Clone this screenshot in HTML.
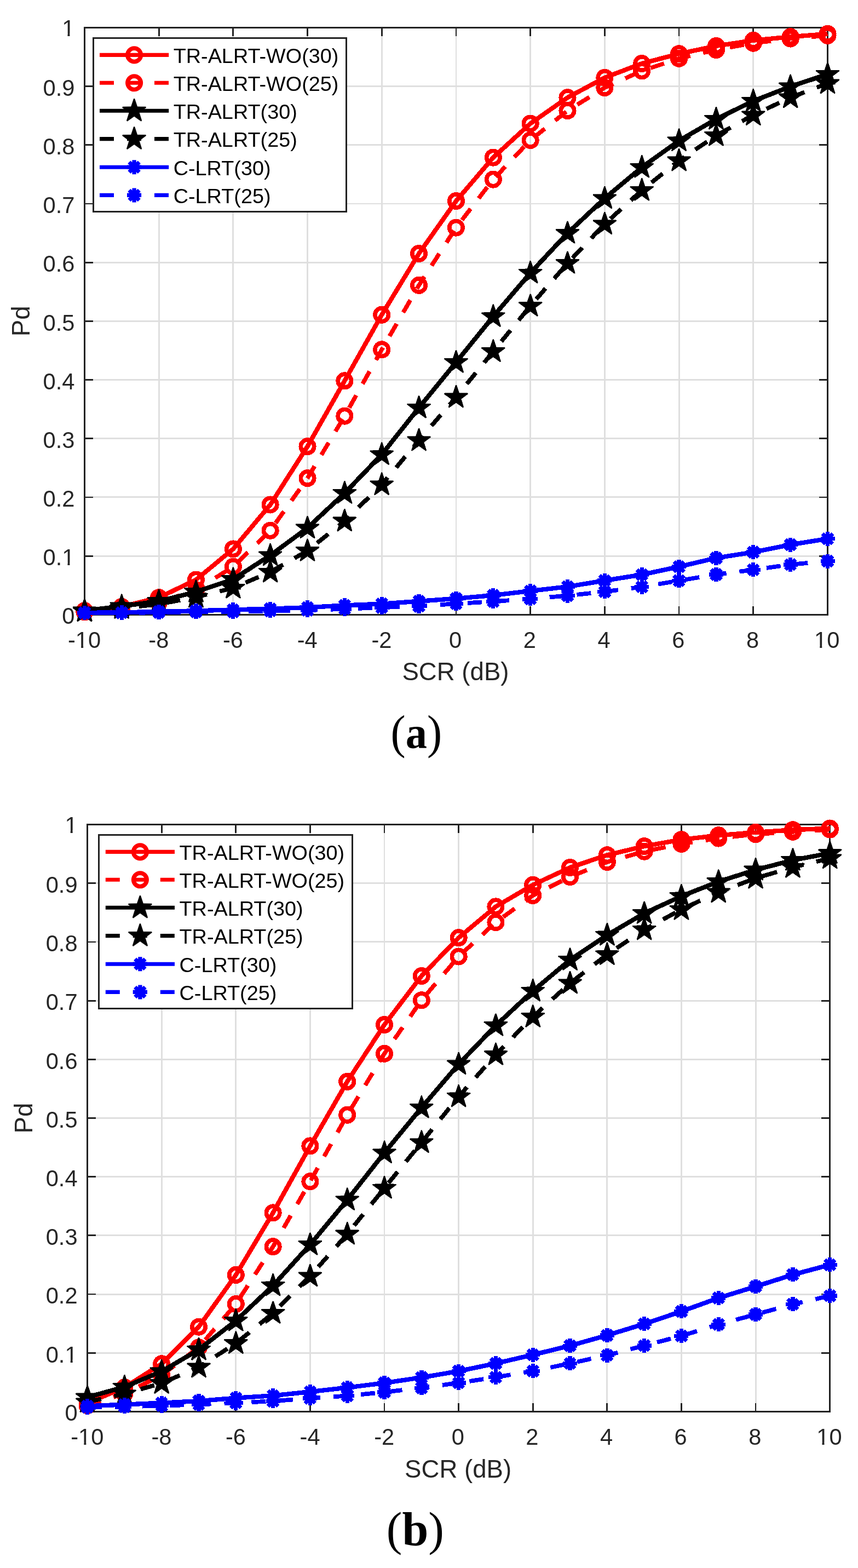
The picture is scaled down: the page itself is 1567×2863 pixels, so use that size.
<!DOCTYPE html>
<html lang="en"><head><meta charset="utf-8"><title>Pd versus SCR</title><style>
html,body{margin:0;padding:0;background:#fff;}
body{width:1567px;height:2863px;overflow:hidden;}
svg{display:block;}
text{font-family:"Liberation Sans",sans-serif;}
.tk text{font-size:41.67px;fill:#262626;}
.lb{font-size:45.6px;fill:#262626;}
.lg{font-size:37.8px;fill:#000;}
.cap{font-family:"Liberation Serif",serif;font-size:86px;fill:#000;}
.cap .b{font-weight:bold;font-size:82.5px;}
</style></head><body>
<svg width="1567" height="2863" viewBox="0 0 1567 2863">
<rect width="1567" height="2863" fill="#fff"/>
<g>
<g shape-rendering="crispEdges">
<path d="M290.11,50.4V1122.3M425.82,50.4V1122.3M561.53,50.4V1122.3M697.24,50.4V1122.3M832.95,50.4V1122.3M968.66,50.4V1122.3M1104.37,50.4V1122.3M1240.08,50.4V1122.3M1375.79,50.4V1122.3M154.4,1015.11H1511.5M154.4,907.92H1511.5M154.4,800.73H1511.5M154.4,693.54H1511.5M154.4,586.35H1511.5M154.4,479.16H1511.5M154.4,371.97H1511.5M154.4,264.78H1511.5M154.4,157.59H1511.5" stroke="#dfdfdf" stroke-width="2.9" fill="none"/>
<path d="M290.11,1122.3v-15.3M290.11,50.4v15.3M425.82,1122.3v-15.3M425.82,50.4v15.3M561.53,1122.3v-15.3M561.53,50.4v15.3M697.24,1122.3v-15.3M697.24,50.4v15.3M832.95,1122.3v-15.3M832.95,50.4v15.3M968.66,1122.3v-15.3M968.66,50.4v15.3M1104.37,1122.3v-15.3M1104.37,50.4v15.3M1240.08,1122.3v-15.3M1240.08,50.4v15.3M1375.79,1122.3v-15.3M1375.79,50.4v15.3M154.4,1015.11h15.3M1511.5,1015.11h-15.3M154.4,907.92h15.3M1511.5,907.92h-15.3M154.4,800.73h15.3M1511.5,800.73h-15.3M154.4,693.54h15.3M1511.5,693.54h-15.3M154.4,586.35h15.3M1511.5,586.35h-15.3M154.4,479.16h15.3M1511.5,479.16h-15.3M154.4,371.97h15.3M1511.5,371.97h-15.3M154.4,264.78h15.3M1511.5,264.78h-15.3M154.4,157.59h15.3M1511.5,157.59h-15.3" stroke="#222222" stroke-width="2.8" fill="none"/>
<rect x="154.4" y="50.4" width="1357.1" height="1071.9" fill="none" stroke="#222222" stroke-width="2.8"/>
</g>
<g class="tk" text-anchor="middle">
<text x="154.1" y="1183.3">-10</text>
<text x="289.81" y="1183.3">-8</text>
<text x="425.52" y="1183.3">-6</text>
<text x="561.23" y="1183.3">-4</text>
<text x="696.94" y="1183.3">-2</text>
<text x="831.65" y="1183.3">0</text>
<text x="967.36" y="1183.3">2</text>
<text x="1103.07" y="1183.3">4</text>
<text x="1238.78" y="1183.3">6</text>
<text x="1374.49" y="1183.3">8</text>
<text x="1510.2" y="1183.3">10</text>
</g>
<g class="tk" text-anchor="end">
<text x="136.4" y="1139">0</text>
<text x="136.4" y="1032.41">0.1</text>
<text x="136.4" y="925.22">0.2</text>
<text x="136.4" y="818.03">0.3</text>
<text x="136.4" y="710.84">0.4</text>
<text x="136.4" y="603.65">0.5</text>
<text x="136.4" y="496.46">0.6</text>
<text x="136.4" y="389.27">0.7</text>
<text x="136.4" y="282.08">0.8</text>
<text x="136.4" y="174.89">0.9</text>
<text x="136.4" y="66">1</text>
</g>
<path d="M114.9,1027.62h8.58v5.83h-8.58zM127.48,1027.62h8.54v5.83h-8.54zM114.9,61.21h8.58v5.83h-8.58zM127.48,61.21h8.54v5.83h-8.54zM139.54,1178.51h8.58v5.83h-8.58zM152.12,1178.51h8.54v5.83h-8.54zM1488.7,1178.51h8.58v5.83h-8.58zM1501.28,1178.51h8.54v5.83h-8.54z" fill="#fff"/>
<text class="lb" text-anchor="middle" x="831.95" y="1242.4">SCR (dB)</text>
<text class="lb" text-anchor="middle" transform="translate(53.9,586.35) rotate(-90)">Pd</text>
<g shape-rendering="crispEdges">
<path d="M154.4,1115.23L222.25,1107.83L290.11,1091.21L357.96,1058.52L425.82,1002.46L493.67,921.53L561.53,815.2L629.38,695.36L697.24,574.77L765.09,462.97L832.95,367.04L900.8,287.61L968.66,225.55L1036.51,178.17L1104.37,141.83L1172.22,116L1240.08,98.21L1307.93,83.95L1375.79,73.77L1443.64,67.23L1511.5,61.87" fill="none" stroke="#ff0000" stroke-width="8.3" stroke-linejoin="round"/>
<circle cx="154.4" cy="1115.23" r="12.2" fill="none" stroke="#ff0000" stroke-width="7.7"/>
<circle cx="222.25" cy="1107.83" r="12.2" fill="none" stroke="#ff0000" stroke-width="7.7"/>
<circle cx="290.11" cy="1091.21" r="12.2" fill="none" stroke="#ff0000" stroke-width="7.7"/>
<circle cx="357.96" cy="1058.52" r="12.2" fill="none" stroke="#ff0000" stroke-width="7.7"/>
<circle cx="425.82" cy="1002.46" r="12.2" fill="none" stroke="#ff0000" stroke-width="7.7"/>
<circle cx="493.67" cy="921.53" r="12.2" fill="none" stroke="#ff0000" stroke-width="7.7"/>
<circle cx="561.53" cy="815.2" r="12.2" fill="none" stroke="#ff0000" stroke-width="7.7"/>
<circle cx="629.38" cy="695.36" r="12.2" fill="none" stroke="#ff0000" stroke-width="7.7"/>
<circle cx="697.24" cy="574.77" r="12.2" fill="none" stroke="#ff0000" stroke-width="7.7"/>
<circle cx="765.09" cy="462.97" r="12.2" fill="none" stroke="#ff0000" stroke-width="7.7"/>
<circle cx="832.95" cy="367.04" r="12.2" fill="none" stroke="#ff0000" stroke-width="7.7"/>
<circle cx="900.8" cy="287.61" r="12.2" fill="none" stroke="#ff0000" stroke-width="7.7"/>
<circle cx="968.66" cy="225.55" r="12.2" fill="none" stroke="#ff0000" stroke-width="7.7"/>
<circle cx="1036.51" cy="178.17" r="12.2" fill="none" stroke="#ff0000" stroke-width="7.7"/>
<circle cx="1104.37" cy="141.83" r="12.2" fill="none" stroke="#ff0000" stroke-width="7.7"/>
<circle cx="1172.22" cy="116" r="12.2" fill="none" stroke="#ff0000" stroke-width="7.7"/>
<circle cx="1240.08" cy="98.21" r="12.2" fill="none" stroke="#ff0000" stroke-width="7.7"/>
<circle cx="1307.93" cy="83.95" r="12.2" fill="none" stroke="#ff0000" stroke-width="7.7"/>
<circle cx="1375.79" cy="73.77" r="12.2" fill="none" stroke="#ff0000" stroke-width="7.7"/>
<circle cx="1443.64" cy="67.23" r="12.2" fill="none" stroke="#ff0000" stroke-width="7.7"/>
<circle cx="1511.5" cy="61.87" r="12.2" fill="none" stroke="#ff0000" stroke-width="7.7"/>
<path d="M154.4,1117.37L222.25,1111.58L290.11,1099.79L357.96,1077.28L425.82,1034.73L493.67,968.7L561.53,873.08L629.38,759.57L697.24,638.34L765.09,520.86L832.95,415.6L900.8,327.59L968.66,255.99L1036.51,202.07L1104.37,160.06L1172.22,129.4L1240.08,106.78L1307.93,90.92L1375.79,78.7L1443.64,70.55L1511.5,64.76" fill="none" stroke="#ff0000" stroke-width="7.8" stroke-linejoin="round" stroke-dasharray="26.0 24.0"/>
<circle cx="154.4" cy="1117.37" r="12.2" fill="none" stroke="#ff0000" stroke-width="7.7"/>
<circle cx="222.25" cy="1111.58" r="12.2" fill="none" stroke="#ff0000" stroke-width="7.7"/>
<circle cx="290.11" cy="1099.79" r="12.2" fill="none" stroke="#ff0000" stroke-width="7.7"/>
<circle cx="357.96" cy="1077.28" r="12.2" fill="none" stroke="#ff0000" stroke-width="7.7"/>
<circle cx="425.82" cy="1034.73" r="12.2" fill="none" stroke="#ff0000" stroke-width="7.7"/>
<circle cx="493.67" cy="968.7" r="12.2" fill="none" stroke="#ff0000" stroke-width="7.7"/>
<circle cx="561.53" cy="873.08" r="12.2" fill="none" stroke="#ff0000" stroke-width="7.7"/>
<circle cx="629.38" cy="759.57" r="12.2" fill="none" stroke="#ff0000" stroke-width="7.7"/>
<circle cx="697.24" cy="638.34" r="12.2" fill="none" stroke="#ff0000" stroke-width="7.7"/>
<circle cx="765.09" cy="520.86" r="12.2" fill="none" stroke="#ff0000" stroke-width="7.7"/>
<circle cx="832.95" cy="415.6" r="12.2" fill="none" stroke="#ff0000" stroke-width="7.7"/>
<circle cx="900.8" cy="327.59" r="12.2" fill="none" stroke="#ff0000" stroke-width="7.7"/>
<circle cx="968.66" cy="255.99" r="12.2" fill="none" stroke="#ff0000" stroke-width="7.7"/>
<circle cx="1036.51" cy="202.07" r="12.2" fill="none" stroke="#ff0000" stroke-width="7.7"/>
<circle cx="1104.37" cy="160.06" r="12.2" fill="none" stroke="#ff0000" stroke-width="7.7"/>
<circle cx="1172.22" cy="129.4" r="12.2" fill="none" stroke="#ff0000" stroke-width="7.7"/>
<circle cx="1240.08" cy="106.78" r="12.2" fill="none" stroke="#ff0000" stroke-width="7.7"/>
<circle cx="1307.93" cy="90.92" r="12.2" fill="none" stroke="#ff0000" stroke-width="7.7"/>
<circle cx="1375.79" cy="78.7" r="12.2" fill="none" stroke="#ff0000" stroke-width="7.7"/>
<circle cx="1443.64" cy="70.55" r="12.2" fill="none" stroke="#ff0000" stroke-width="7.7"/>
<circle cx="1511.5" cy="64.76" r="12.2" fill="none" stroke="#ff0000" stroke-width="7.7"/>
<path d="M154.4,1114.97L222.25,1106.93L290.11,1097.71L357.96,1080.67L425.82,1057.73L493.67,1014L561.53,964.04L629.38,900.48L697.24,829.84L765.09,744.52L832.95,661.55L900.8,577.84L968.66,498.41L1036.51,425.74L1104.37,362.17L1172.22,305.47L1240.08,256.91L1307.93,217.47L1375.79,184.45L1443.64,157.98L1511.5,135.57" fill="none" stroke="#000000" stroke-width="8.3" stroke-linejoin="round"/>
<path d="M153.6,1092.97L155.2,1092.97L160.1,1107.52L175.46,1107.69L175.95,1109.21L163.63,1118.37L168.21,1133.02L166.92,1133.96L154.4,1125.07L141.88,1133.96L140.59,1133.02L145.17,1118.37L132.85,1109.21L133.34,1107.69L148.7,1107.52Z" fill="#000000" stroke="#000000" stroke-width="0.6" stroke-linejoin="miter" stroke-miterlimit="10"/>
<path d="M221.45,1084.93L223.06,1084.93L227.96,1099.48L243.31,1099.65L243.81,1101.17L231.48,1110.33L236.07,1124.98L234.77,1125.92L222.25,1117.03L209.74,1125.92L208.44,1124.98L213.03,1110.33L200.7,1101.17L201.2,1099.65L216.55,1099.48Z" fill="#000000" stroke="#000000" stroke-width="0.6" stroke-linejoin="miter" stroke-miterlimit="10"/>
<path d="M289.31,1075.71L290.91,1075.71L295.81,1090.26L311.17,1090.43L311.66,1091.95L299.34,1101.11L303.92,1115.76L302.63,1116.7L290.11,1107.81L277.59,1116.7L276.3,1115.76L280.88,1101.11L268.56,1091.95L269.05,1090.43L284.41,1090.26Z" fill="#000000" stroke="#000000" stroke-width="0.6" stroke-linejoin="miter" stroke-miterlimit="10"/>
<path d="M357.16,1058.67L358.76,1058.67L363.67,1073.22L379.02,1073.38L379.52,1074.91L367.19,1084.06L371.78,1098.72L370.48,1099.66L357.96,1090.77L345.45,1099.66L344.15,1098.72L348.74,1084.06L336.41,1074.91L336.91,1073.38L352.26,1073.22Z" fill="#000000" stroke="#000000" stroke-width="0.6" stroke-linejoin="miter" stroke-miterlimit="10"/>
<path d="M425.02,1035.73L426.62,1035.73L431.52,1050.28L446.88,1050.45L447.37,1051.97L435.05,1061.13L439.63,1075.78L438.34,1076.72L425.82,1067.83L413.3,1076.72L412.01,1075.78L416.59,1061.13L404.27,1051.97L404.76,1050.45L420.12,1050.28Z" fill="#000000" stroke="#000000" stroke-width="0.6" stroke-linejoin="miter" stroke-miterlimit="10"/>
<path d="M492.87,992L494.47,992L499.38,1006.55L514.73,1006.71L515.23,1008.23L502.9,1017.39L507.49,1032.05L506.19,1032.99L493.67,1024.1L481.16,1032.99L479.86,1032.05L484.45,1017.39L472.12,1008.23L472.62,1006.71L487.97,1006.55Z" fill="#000000" stroke="#000000" stroke-width="0.6" stroke-linejoin="miter" stroke-miterlimit="10"/>
<path d="M560.73,942.04L562.33,942.04L567.23,956.6L582.59,956.76L583.08,958.28L570.76,967.44L575.34,982.1L574.05,983.04L561.53,974.14L549.01,983.04L547.72,982.1L552.3,967.44L539.98,958.28L540.47,956.76L555.83,956.6Z" fill="#000000" stroke="#000000" stroke-width="0.6" stroke-linejoin="miter" stroke-miterlimit="10"/>
<path d="M628.58,878.48L630.18,878.48L635.09,893.03L650.44,893.2L650.94,894.72L638.61,903.88L643.2,918.53L641.9,919.47L629.38,910.58L616.87,919.47L615.57,918.53L620.16,903.88L607.83,894.72L608.33,893.2L623.68,893.03Z" fill="#000000" stroke="#000000" stroke-width="0.6" stroke-linejoin="miter" stroke-miterlimit="10"/>
<path d="M696.44,807.84L698.04,807.84L702.94,822.4L718.3,822.56L718.79,824.08L706.47,833.24L711.05,847.89L709.76,848.84L697.24,839.94L684.72,848.84L683.43,847.89L688.01,833.24L675.69,824.08L676.18,822.56L691.54,822.4Z" fill="#000000" stroke="#000000" stroke-width="0.6" stroke-linejoin="miter" stroke-miterlimit="10"/>
<path d="M764.29,722.52L765.89,722.52L770.8,737.07L786.15,737.24L786.65,738.76L774.32,747.92L778.91,762.57L777.61,763.51L765.09,754.62L752.58,763.51L751.28,762.57L755.87,747.92L743.54,738.76L744.04,737.24L759.39,737.07Z" fill="#000000" stroke="#000000" stroke-width="0.6" stroke-linejoin="miter" stroke-miterlimit="10"/>
<path d="M832.15,639.55L833.75,639.55L838.65,654.11L854.01,654.27L854.5,655.79L842.18,664.95L846.76,679.61L845.47,680.55L832.95,671.65L820.43,680.55L819.14,679.61L823.72,664.95L811.4,655.79L811.89,654.27L827.25,654.11Z" fill="#000000" stroke="#000000" stroke-width="0.6" stroke-linejoin="miter" stroke-miterlimit="10"/>
<path d="M900,555.84L901.6,555.84L906.51,570.39L921.86,570.56L922.36,572.08L910.03,581.24L914.62,595.89L913.32,596.83L900.8,587.94L888.29,596.83L886.99,595.89L891.58,581.24L879.25,572.08L879.75,570.56L895.1,570.39Z" fill="#000000" stroke="#000000" stroke-width="0.6" stroke-linejoin="miter" stroke-miterlimit="10"/>
<path d="M967.86,476.41L969.46,476.41L974.36,490.96L989.72,491.13L990.21,492.65L977.89,501.81L982.47,516.46L981.18,517.4L968.66,508.51L956.14,517.4L954.85,516.46L959.43,501.81L947.11,492.65L947.6,491.13L962.96,490.96Z" fill="#000000" stroke="#000000" stroke-width="0.6" stroke-linejoin="miter" stroke-miterlimit="10"/>
<path d="M1035.71,403.74L1037.31,403.74L1042.22,418.29L1057.57,418.45L1058.07,419.98L1045.74,429.13L1050.33,443.79L1049.03,444.73L1036.51,435.84L1024,444.73L1022.7,443.79L1027.29,429.13L1014.96,419.98L1015.46,418.45L1030.81,418.29Z" fill="#000000" stroke="#000000" stroke-width="0.6" stroke-linejoin="miter" stroke-miterlimit="10"/>
<path d="M1103.57,340.17L1105.17,340.17L1110.07,354.73L1125.43,354.89L1125.92,356.41L1113.6,365.57L1118.18,380.22L1116.89,381.17L1104.37,372.27L1091.85,381.17L1090.56,380.22L1095.14,365.57L1082.82,356.41L1083.31,354.89L1098.67,354.73Z" fill="#000000" stroke="#000000" stroke-width="0.6" stroke-linejoin="miter" stroke-miterlimit="10"/>
<path d="M1171.42,283.47L1173.02,283.47L1177.93,298.02L1193.28,298.19L1193.78,299.71L1181.45,308.87L1186.04,323.52L1184.74,324.46L1172.22,315.57L1159.71,324.46L1158.41,323.52L1163,308.87L1150.67,299.71L1151.17,298.19L1166.52,298.02Z" fill="#000000" stroke="#000000" stroke-width="0.6" stroke-linejoin="miter" stroke-miterlimit="10"/>
<path d="M1239.28,234.91L1240.88,234.91L1245.78,249.46L1261.14,249.63L1261.63,251.15L1249.31,260.31L1253.89,274.96L1252.6,275.9L1240.08,267.01L1227.56,275.9L1226.27,274.96L1230.85,260.31L1218.53,251.15L1219.02,249.63L1234.38,249.46Z" fill="#000000" stroke="#000000" stroke-width="0.6" stroke-linejoin="miter" stroke-miterlimit="10"/>
<path d="M1307.13,195.47L1308.73,195.47L1313.64,210.02L1328.99,210.18L1329.49,211.71L1317.16,220.86L1321.75,235.52L1320.45,236.46L1307.93,227.57L1295.42,236.46L1294.12,235.52L1298.71,220.86L1286.38,211.71L1286.88,210.18L1302.23,210.02Z" fill="#000000" stroke="#000000" stroke-width="0.6" stroke-linejoin="miter" stroke-miterlimit="10"/>
<path d="M1374.99,162.45L1376.59,162.45L1381.49,177L1396.85,177.17L1397.34,178.69L1385.02,187.85L1389.6,202.5L1388.31,203.44L1375.79,194.55L1363.27,203.44L1361.98,202.5L1366.56,187.85L1354.24,178.69L1354.73,177.17L1370.09,177Z" fill="#000000" stroke="#000000" stroke-width="0.6" stroke-linejoin="miter" stroke-miterlimit="10"/>
<path d="M1442.85,135.98L1444.44,135.98L1449.35,150.53L1464.7,150.69L1465.2,152.21L1452.87,161.37L1457.46,176.03L1456.16,176.97L1443.64,168.08L1431.13,176.97L1429.83,176.03L1434.42,161.37L1422.09,152.21L1422.59,150.69L1437.94,150.53Z" fill="#000000" stroke="#000000" stroke-width="0.6" stroke-linejoin="miter" stroke-miterlimit="10"/>
<path d="M1510.7,113.57L1512.3,113.57L1517.2,128.13L1532.56,128.29L1533.05,129.81L1520.73,138.97L1525.31,153.62L1524.02,154.57L1511.5,145.67L1498.98,154.57L1497.69,153.62L1502.27,138.97L1489.95,129.81L1490.44,128.29L1505.8,128.13Z" fill="#000000" stroke="#000000" stroke-width="0.6" stroke-linejoin="miter" stroke-miterlimit="10"/>
<path d="M154.4,1116.04L222.25,1110.68L290.11,1103.18L357.96,1090.31L425.82,1073.59L493.67,1044.44L561.53,1005.63L629.38,951.29L697.24,884.94L765.09,804.12L832.95,725.23L900.8,641.72L968.66,558.54L1036.51,480.62L1104.37,409.01L1172.22,347.49L1240.08,293.25L1307.93,247.48L1375.79,209.96L1443.64,178.23L1511.5,152.19" fill="none" stroke="#000000" stroke-width="7.8" stroke-linejoin="round" stroke-dasharray="26.0 24.0"/>
<path d="M153.6,1094.04L155.2,1094.04L160.1,1108.59L175.46,1108.76L175.95,1110.28L163.63,1119.44L168.21,1134.09L166.92,1135.03L154.4,1126.14L141.88,1135.03L140.59,1134.09L145.17,1119.44L132.85,1110.28L133.34,1108.76L148.7,1108.59Z" fill="#000000" stroke="#000000" stroke-width="0.6" stroke-linejoin="miter" stroke-miterlimit="10"/>
<path d="M221.45,1088.68L223.06,1088.68L227.96,1103.23L243.31,1103.4L243.81,1104.92L231.48,1114.08L236.07,1128.73L234.77,1129.67L222.25,1120.78L209.74,1129.67L208.44,1128.73L213.03,1114.08L200.7,1104.92L201.2,1103.4L216.55,1103.23Z" fill="#000000" stroke="#000000" stroke-width="0.6" stroke-linejoin="miter" stroke-miterlimit="10"/>
<path d="M289.31,1081.18L290.91,1081.18L295.81,1095.73L311.17,1095.89L311.66,1097.42L299.34,1106.57L303.92,1121.23L302.63,1122.17L290.11,1113.28L277.59,1122.17L276.3,1121.23L280.88,1106.57L268.56,1097.42L269.05,1095.89L284.41,1095.73Z" fill="#000000" stroke="#000000" stroke-width="0.6" stroke-linejoin="miter" stroke-miterlimit="10"/>
<path d="M357.16,1068.31L358.76,1068.31L363.67,1082.87L379.02,1083.03L379.52,1084.55L367.19,1093.71L371.78,1108.37L370.48,1109.31L357.96,1100.41L345.45,1109.31L344.15,1108.37L348.74,1093.71L336.41,1084.55L336.91,1083.03L352.26,1082.87Z" fill="#000000" stroke="#000000" stroke-width="0.6" stroke-linejoin="miter" stroke-miterlimit="10"/>
<path d="M425.02,1051.59L426.62,1051.59L431.52,1066.15L446.88,1066.31L447.37,1067.83L435.05,1076.99L439.63,1091.64L438.34,1092.59L425.82,1083.69L413.3,1092.59L412.01,1091.64L416.59,1076.99L404.27,1067.83L404.76,1066.31L420.12,1066.15Z" fill="#000000" stroke="#000000" stroke-width="0.6" stroke-linejoin="miter" stroke-miterlimit="10"/>
<path d="M492.87,1022.44L494.47,1022.44L499.38,1036.99L514.73,1037.15L515.23,1038.68L502.9,1047.83L507.49,1062.49L506.19,1063.43L493.67,1054.54L481.16,1063.43L479.86,1062.49L484.45,1047.83L472.12,1038.68L472.62,1037.15L487.97,1036.99Z" fill="#000000" stroke="#000000" stroke-width="0.6" stroke-linejoin="miter" stroke-miterlimit="10"/>
<path d="M560.73,983.63L562.33,983.63L567.23,998.19L582.59,998.35L583.08,999.87L570.76,1009.03L575.34,1023.69L574.05,1024.63L561.53,1015.73L549.01,1024.63L547.72,1023.69L552.3,1009.03L539.98,999.87L540.47,998.35L555.83,998.19Z" fill="#000000" stroke="#000000" stroke-width="0.6" stroke-linejoin="miter" stroke-miterlimit="10"/>
<path d="M628.58,929.29L630.18,929.29L635.09,943.84L650.44,944.01L650.94,945.53L638.61,954.69L643.2,969.34L641.9,970.28L629.38,961.39L616.87,970.28L615.57,969.34L620.16,954.69L607.83,945.53L608.33,944.01L623.68,943.84Z" fill="#000000" stroke="#000000" stroke-width="0.6" stroke-linejoin="miter" stroke-miterlimit="10"/>
<path d="M696.44,862.94L698.04,862.94L702.94,877.49L718.3,877.66L718.79,879.18L706.47,888.34L711.05,902.99L709.76,903.93L697.24,895.04L684.72,903.93L683.43,902.99L688.01,888.34L675.69,879.18L676.18,877.66L691.54,877.49Z" fill="#000000" stroke="#000000" stroke-width="0.6" stroke-linejoin="miter" stroke-miterlimit="10"/>
<path d="M764.29,782.12L765.89,782.12L770.8,796.67L786.15,796.83L786.65,798.36L774.32,807.51L778.91,822.17L777.61,823.11L765.09,814.22L752.58,823.11L751.28,822.17L755.87,807.51L743.54,798.36L744.04,796.83L759.39,796.67Z" fill="#000000" stroke="#000000" stroke-width="0.6" stroke-linejoin="miter" stroke-miterlimit="10"/>
<path d="M832.15,703.23L833.75,703.23L838.65,717.78L854.01,717.94L854.5,719.46L842.18,728.62L846.76,743.28L845.47,744.22L832.95,735.33L820.43,744.22L819.14,743.28L823.72,728.62L811.4,719.46L811.89,717.94L827.25,717.78Z" fill="#000000" stroke="#000000" stroke-width="0.6" stroke-linejoin="miter" stroke-miterlimit="10"/>
<path d="M900,619.72L901.6,619.72L906.51,634.28L921.86,634.44L922.36,635.96L910.03,645.12L914.62,659.78L913.32,660.72L900.8,651.82L888.29,660.72L886.99,659.78L891.58,645.12L879.25,635.96L879.75,634.44L895.1,634.28Z" fill="#000000" stroke="#000000" stroke-width="0.6" stroke-linejoin="miter" stroke-miterlimit="10"/>
<path d="M967.86,536.54L969.46,536.54L974.36,551.1L989.72,551.26L990.21,552.78L977.89,561.94L982.47,576.6L981.18,577.54L968.66,568.64L956.14,577.54L954.85,576.6L959.43,561.94L947.11,552.78L947.6,551.26L962.96,551.1Z" fill="#000000" stroke="#000000" stroke-width="0.6" stroke-linejoin="miter" stroke-miterlimit="10"/>
<path d="M1035.71,458.62L1037.31,458.62L1042.22,473.17L1057.57,473.33L1058.07,474.86L1045.74,484.02L1050.33,498.67L1049.03,499.61L1036.51,490.72L1024,499.61L1022.7,498.67L1027.29,484.02L1014.96,474.86L1015.46,473.33L1030.81,473.17Z" fill="#000000" stroke="#000000" stroke-width="0.6" stroke-linejoin="miter" stroke-miterlimit="10"/>
<path d="M1103.57,387.01L1105.17,387.01L1110.07,401.57L1125.43,401.73L1125.92,403.25L1113.6,412.41L1118.18,427.07L1116.89,428.01L1104.37,419.11L1091.85,428.01L1090.56,427.07L1095.14,412.41L1082.82,403.25L1083.31,401.73L1098.67,401.57Z" fill="#000000" stroke="#000000" stroke-width="0.6" stroke-linejoin="miter" stroke-miterlimit="10"/>
<path d="M1171.42,325.49L1173.02,325.49L1177.93,340.04L1193.28,340.2L1193.78,341.73L1181.45,350.89L1186.04,365.54L1184.74,366.48L1172.22,357.59L1159.71,366.48L1158.41,365.54L1163,350.89L1150.67,341.73L1151.17,340.2L1166.52,340.04Z" fill="#000000" stroke="#000000" stroke-width="0.6" stroke-linejoin="miter" stroke-miterlimit="10"/>
<path d="M1239.28,271.25L1240.88,271.25L1245.78,285.8L1261.14,285.97L1261.63,287.49L1249.31,296.65L1253.89,311.3L1252.6,312.24L1240.08,303.35L1227.56,312.24L1226.27,311.3L1230.85,296.65L1218.53,287.49L1219.02,285.97L1234.38,285.8Z" fill="#000000" stroke="#000000" stroke-width="0.6" stroke-linejoin="miter" stroke-miterlimit="10"/>
<path d="M1307.13,225.48L1308.73,225.48L1313.64,240.03L1328.99,240.2L1329.49,241.72L1317.16,250.88L1321.75,265.53L1320.45,266.47L1307.93,257.58L1295.42,266.47L1294.12,265.53L1298.71,250.88L1286.38,241.72L1286.88,240.2L1302.23,240.03Z" fill="#000000" stroke="#000000" stroke-width="0.6" stroke-linejoin="miter" stroke-miterlimit="10"/>
<path d="M1374.99,187.96L1376.59,187.96L1381.49,202.52L1396.85,202.68L1397.34,204.2L1385.02,213.36L1389.6,228.01L1388.31,228.96L1375.79,220.06L1363.27,228.96L1361.98,228.01L1366.56,213.36L1354.24,204.2L1354.73,202.68L1370.09,202.52Z" fill="#000000" stroke="#000000" stroke-width="0.6" stroke-linejoin="miter" stroke-miterlimit="10"/>
<path d="M1442.85,156.23L1444.44,156.23L1449.35,170.79L1464.7,170.95L1465.2,172.47L1452.87,181.63L1457.46,196.29L1456.16,197.23L1443.64,188.33L1431.13,197.23L1429.83,196.29L1434.42,181.63L1422.09,172.47L1422.59,170.95L1437.94,170.79Z" fill="#000000" stroke="#000000" stroke-width="0.6" stroke-linejoin="miter" stroke-miterlimit="10"/>
<path d="M1510.7,130.19L1512.3,130.19L1517.2,144.74L1532.56,144.9L1533.05,146.43L1520.73,155.59L1525.31,170.24L1524.02,171.18L1511.5,162.29L1498.98,171.18L1497.69,170.24L1502.27,155.59L1489.95,146.43L1490.44,144.9L1505.8,144.74Z" fill="#000000" stroke="#000000" stroke-width="0.6" stroke-linejoin="miter" stroke-miterlimit="10"/>
<path d="M154.4,1118.76L222.25,1118.44L290.11,1116.62L357.96,1115.33L425.82,1113.3L493.67,1111.58L561.53,1109.12L629.38,1105.36L697.24,1102.58L765.09,1097.75L832.95,1092.93L900.8,1086.93L968.66,1079L1036.51,1071.28L1104.37,1060.02L1172.22,1049.3L1240.08,1034.73L1307.93,1018.86L1375.79,1008.14L1443.64,994.53L1511.5,983.7" fill="none" stroke="#0000ff" stroke-width="8.3" stroke-linejoin="round"/>
<path d="M141.4,1118.76L167.4,1118.76M145.21,1109.57L163.59,1127.96M154.4,1105.76L154.4,1131.76M163.59,1109.57L145.21,1127.96" fill="none" stroke="#0000ff" stroke-width="7.3"/>
<path d="M209.25,1118.44L235.25,1118.44M213.06,1109.25L231.45,1127.63M222.25,1105.44L222.25,1131.44M231.45,1109.25L213.06,1127.63" fill="none" stroke="#0000ff" stroke-width="7.3"/>
<path d="M277.11,1116.62L303.11,1116.62M280.92,1107.43L299.3,1125.81M290.11,1103.62L290.11,1129.62M299.3,1107.43L280.92,1125.81" fill="none" stroke="#0000ff" stroke-width="7.3"/>
<path d="M344.96,1115.33L370.96,1115.33M348.77,1106.14L367.16,1124.53M357.96,1102.33L357.96,1128.33M367.16,1106.14L348.77,1124.53" fill="none" stroke="#0000ff" stroke-width="7.3"/>
<path d="M412.82,1113.3L438.82,1113.3M416.63,1104.1L435.01,1122.49M425.82,1100.3L425.82,1126.3M435.01,1104.1L416.63,1122.49" fill="none" stroke="#0000ff" stroke-width="7.3"/>
<path d="M480.67,1111.58L506.67,1111.58M484.48,1102.39L502.87,1120.77M493.67,1098.58L493.67,1124.58M502.87,1102.39L484.48,1120.77" fill="none" stroke="#0000ff" stroke-width="7.3"/>
<path d="M548.53,1109.12L574.53,1109.12M552.34,1099.92L570.72,1118.31M561.53,1096.12L561.53,1122.12M570.72,1099.92L552.34,1118.31" fill="none" stroke="#0000ff" stroke-width="7.3"/>
<path d="M616.38,1105.36L642.38,1105.36M620.19,1096.17L638.58,1114.56M629.38,1092.36L629.38,1118.36M638.58,1096.17L620.19,1114.56" fill="none" stroke="#0000ff" stroke-width="7.3"/>
<path d="M684.24,1102.58L710.24,1102.58M688.05,1093.38L706.43,1111.77M697.24,1089.58L697.24,1115.58M706.43,1093.38L688.05,1111.77" fill="none" stroke="#0000ff" stroke-width="7.3"/>
<path d="M752.09,1097.75L778.09,1097.75M755.9,1088.56L774.29,1106.95M765.09,1084.75L765.09,1110.75M774.29,1088.56L755.9,1106.95" fill="none" stroke="#0000ff" stroke-width="7.3"/>
<path d="M819.95,1092.93L845.95,1092.93M823.76,1083.74L842.14,1102.12M832.95,1079.93L832.95,1105.93M842.14,1083.74L823.76,1102.12" fill="none" stroke="#0000ff" stroke-width="7.3"/>
<path d="M887.8,1086.93L913.8,1086.93M891.61,1077.73L910,1096.12M900.8,1073.93L900.8,1099.93M910,1077.73L891.61,1096.12" fill="none" stroke="#0000ff" stroke-width="7.3"/>
<path d="M955.66,1079L981.66,1079M959.47,1069.8L977.85,1088.19M968.66,1066L968.66,1092M977.85,1069.8L959.47,1088.19" fill="none" stroke="#0000ff" stroke-width="7.3"/>
<path d="M1023.51,1071.28L1049.51,1071.28M1027.32,1062.09L1045.71,1080.47M1036.51,1058.28L1036.51,1084.28M1045.71,1062.09L1027.32,1080.47" fill="none" stroke="#0000ff" stroke-width="7.3"/>
<path d="M1091.37,1060.02L1117.37,1060.02M1095.18,1050.83L1113.56,1069.21M1104.37,1047.02L1104.37,1073.02M1113.56,1050.83L1095.18,1069.21" fill="none" stroke="#0000ff" stroke-width="7.3"/>
<path d="M1159.22,1049.3L1185.22,1049.3M1163.03,1040.11L1181.42,1058.5M1172.22,1036.3L1172.22,1062.3M1181.42,1040.11L1163.03,1058.5" fill="none" stroke="#0000ff" stroke-width="7.3"/>
<path d="M1227.08,1034.73L1253.08,1034.73M1230.89,1025.53L1249.27,1043.92M1240.08,1021.73L1240.08,1047.73M1249.27,1025.53L1230.89,1043.92" fill="none" stroke="#0000ff" stroke-width="7.3"/>
<path d="M1294.93,1018.86L1320.93,1018.86M1298.74,1009.67L1317.13,1028.05M1307.93,1005.86L1307.93,1031.86M1317.13,1009.67L1298.74,1028.05" fill="none" stroke="#0000ff" stroke-width="7.3"/>
<path d="M1362.79,1008.14L1388.79,1008.14M1366.6,998.95L1384.98,1017.34M1375.79,995.14L1375.79,1021.14M1384.98,998.95L1366.6,1017.34" fill="none" stroke="#0000ff" stroke-width="7.3"/>
<path d="M1430.64,994.53L1456.64,994.53M1434.45,985.34L1452.84,1003.72M1443.64,981.53L1443.64,1007.53M1452.84,985.34L1434.45,1003.72" fill="none" stroke="#0000ff" stroke-width="7.3"/>
<path d="M1498.5,983.7L1524.5,983.7M1502.31,974.51L1520.69,992.9M1511.5,970.7L1511.5,996.7M1520.69,974.51L1502.31,992.9" fill="none" stroke="#0000ff" stroke-width="7.3"/>
<path d="M154.4,1119.41L222.25,1119.08L290.11,1118.33L357.96,1117.48L425.82,1117.05L493.67,1115.33L561.53,1114.15L629.38,1111.9L697.24,1109.12L765.09,1106.76L832.95,1102.26L900.8,1098.29L968.66,1093.36L1036.51,1087.57L1104.37,1080.39L1172.22,1071.6L1240.08,1060.24L1307.93,1048.98L1375.79,1040.41L1443.64,1030.87L1511.5,1024.54" fill="none" stroke="#0000ff" stroke-width="7.8" stroke-linejoin="round" stroke-dasharray="26.0 24.0"/>
<path d="M141.4,1119.41L167.4,1119.41M145.21,1110.21L163.59,1128.6M154.4,1106.41L154.4,1132.41M163.59,1110.21L145.21,1128.6" fill="none" stroke="#0000ff" stroke-width="7.3"/>
<path d="M209.25,1119.08L235.25,1119.08M213.06,1109.89L231.45,1128.28M222.25,1106.08L222.25,1132.08M231.45,1109.89L213.06,1128.28" fill="none" stroke="#0000ff" stroke-width="7.3"/>
<path d="M277.11,1118.33L303.11,1118.33M280.92,1109.14L299.3,1127.53M290.11,1105.33L290.11,1131.33M299.3,1109.14L280.92,1127.53" fill="none" stroke="#0000ff" stroke-width="7.3"/>
<path d="M344.96,1117.48L370.96,1117.48M348.77,1108.28L367.16,1126.67M357.96,1104.48L357.96,1130.48M367.16,1108.28L348.77,1126.67" fill="none" stroke="#0000ff" stroke-width="7.3"/>
<path d="M412.82,1117.05L438.82,1117.05M416.63,1107.86L435.01,1126.24M425.82,1104.05L425.82,1130.05M435.01,1107.86L416.63,1126.24" fill="none" stroke="#0000ff" stroke-width="7.3"/>
<path d="M480.67,1115.33L506.67,1115.33M484.48,1106.14L502.87,1124.53M493.67,1102.33L493.67,1128.33M502.87,1106.14L484.48,1124.53" fill="none" stroke="#0000ff" stroke-width="7.3"/>
<path d="M548.53,1114.15L574.53,1114.15M552.34,1104.96L570.72,1123.35M561.53,1101.15L561.53,1127.15M570.72,1104.96L552.34,1123.35" fill="none" stroke="#0000ff" stroke-width="7.3"/>
<path d="M616.38,1111.9L642.38,1111.9M620.19,1102.71L638.58,1121.09M629.38,1098.9L629.38,1124.9M638.58,1102.71L620.19,1121.09" fill="none" stroke="#0000ff" stroke-width="7.3"/>
<path d="M684.24,1109.12L710.24,1109.12M688.05,1099.92L706.43,1118.31M697.24,1096.12L697.24,1122.12M706.43,1099.92L688.05,1118.31" fill="none" stroke="#0000ff" stroke-width="7.3"/>
<path d="M752.09,1106.76L778.09,1106.76M755.9,1097.57L774.29,1115.95M765.09,1093.76L765.09,1119.76M774.29,1097.57L755.9,1115.95" fill="none" stroke="#0000ff" stroke-width="7.3"/>
<path d="M819.95,1102.26L845.95,1102.26M823.76,1093.06L842.14,1111.45M832.95,1089.26L832.95,1115.26M842.14,1093.06L823.76,1111.45" fill="none" stroke="#0000ff" stroke-width="7.3"/>
<path d="M887.8,1098.29L913.8,1098.29M891.61,1089.1L910,1107.48M900.8,1085.29L900.8,1111.29M910,1089.1L891.61,1107.48" fill="none" stroke="#0000ff" stroke-width="7.3"/>
<path d="M955.66,1093.36L981.66,1093.36M959.47,1084.17L977.85,1102.55M968.66,1080.36L968.66,1106.36M977.85,1084.17L959.47,1102.55" fill="none" stroke="#0000ff" stroke-width="7.3"/>
<path d="M1023.51,1087.57L1049.51,1087.57M1027.32,1078.38L1045.71,1096.76M1036.51,1074.57L1036.51,1100.57M1045.71,1078.38L1027.32,1096.76" fill="none" stroke="#0000ff" stroke-width="7.3"/>
<path d="M1091.37,1080.39L1117.37,1080.39M1095.18,1071.2L1113.56,1089.58M1104.37,1067.39L1104.37,1093.39M1113.56,1071.2L1095.18,1089.58" fill="none" stroke="#0000ff" stroke-width="7.3"/>
<path d="M1159.22,1071.6L1185.22,1071.6M1163.03,1062.41L1181.42,1080.79M1172.22,1058.6L1172.22,1084.6M1181.42,1062.41L1163.03,1080.79" fill="none" stroke="#0000ff" stroke-width="7.3"/>
<path d="M1227.08,1060.24L1253.08,1060.24M1230.89,1051.04L1249.27,1069.43M1240.08,1047.24L1240.08,1073.24M1249.27,1051.04L1230.89,1069.43" fill="none" stroke="#0000ff" stroke-width="7.3"/>
<path d="M1294.93,1048.98L1320.93,1048.98M1298.74,1039.79L1317.13,1058.17M1307.93,1035.98L1307.93,1061.98M1317.13,1039.79L1298.74,1058.17" fill="none" stroke="#0000ff" stroke-width="7.3"/>
<path d="M1362.79,1040.41L1388.79,1040.41M1366.6,1031.21L1384.98,1049.6M1375.79,1027.41L1375.79,1053.41M1384.98,1031.21L1366.6,1049.6" fill="none" stroke="#0000ff" stroke-width="7.3"/>
<path d="M1430.64,1030.87L1456.64,1030.87M1434.45,1021.67L1452.84,1040.06M1443.64,1017.87L1443.64,1043.87M1452.84,1021.67L1434.45,1040.06" fill="none" stroke="#0000ff" stroke-width="7.3"/>
<path d="M1498.5,1024.54L1524.5,1024.54M1502.31,1015.35L1520.69,1033.74M1511.5,1011.54L1511.5,1037.54M1520.69,1015.35L1502.31,1033.74" fill="none" stroke="#0000ff" stroke-width="7.3"/>
</g>
<rect x="170.6" y="69.2" width="462.1" height="317.7" fill="#fff" stroke="#222222" stroke-width="3.1" shape-rendering="crispEdges"/>
<path d="M182,100.4H308.2" fill="none" stroke="#ff0000" stroke-width="7.1"/>
<circle cx="245.1" cy="100.4" r="12.2" fill="none" stroke="#ff0000" stroke-width="7.7"/>
<text class="lg" x="316.7" y="115">TR-ALRT-WO(30)</text>
<path d="M182,151.3H308.2" fill="none" stroke="#ff0000" stroke-width="7.1" stroke-dasharray="26.0 24.0"/>
<circle cx="245.1" cy="151.3" r="12.2" fill="none" stroke="#ff0000" stroke-width="7.7"/>
<text class="lg" x="316.7" y="165.9">TR-ALRT-WO(25)</text>
<path d="M182,202.3H308.2" fill="none" stroke="#000000" stroke-width="7.1"/>
<path d="M244.3,180.3L245.9,180.3L250.8,194.85L266.16,195.02L266.65,196.54L254.33,205.7L258.91,220.35L257.62,221.29L245.1,212.4L232.58,221.29L231.29,220.35L235.87,205.7L223.55,196.54L224.04,195.02L239.4,194.85Z" fill="#000000" stroke="#000000" stroke-width="0.6" stroke-linejoin="miter" stroke-miterlimit="10"/>
<text class="lg" x="316.7" y="216.9">TR-ALRT(30)</text>
<path d="M182,253.6H308.2" fill="none" stroke="#000000" stroke-width="7.1" stroke-dasharray="26.0 24.0"/>
<path d="M244.3,231.6L245.9,231.6L250.8,246.15L266.16,246.32L266.65,247.84L254.33,257L258.91,271.65L257.62,272.59L245.1,263.7L232.58,272.59L231.29,271.65L235.87,257L223.55,247.84L224.04,246.32L239.4,246.15Z" fill="#000000" stroke="#000000" stroke-width="0.6" stroke-linejoin="miter" stroke-miterlimit="10"/>
<text class="lg" x="316.7" y="268.2">TR-ALRT(25)</text>
<path d="M182,305.2H308.2" fill="none" stroke="#0000ff" stroke-width="7.1"/>
<path d="M232.1,305.2L258.1,305.2M235.91,296.01L254.29,314.39M245.1,292.2L245.1,318.2M254.29,296.01L235.91,314.39" fill="none" stroke="#0000ff" stroke-width="7.3"/>
<text class="lg" x="316.7" y="319.8">C-LRT(30)</text>
<path d="M182,356.4H308.2" fill="none" stroke="#0000ff" stroke-width="7.1" stroke-dasharray="26.0 24.0"/>
<path d="M232.1,356.4L258.1,356.4M235.91,347.21L254.29,365.59M245.1,343.4L245.1,369.4M254.29,347.21L235.91,365.59" fill="none" stroke="#0000ff" stroke-width="7.3"/>
<text class="lg" x="316.7" y="371">C-LRT(25)</text>
</g>
<text class="cap" text-anchor="middle" transform="translate(760.4,1365.8) scale(0.95,1)">(<tspan class="b">a</tspan>)</text>
<g>
<g shape-rendering="crispEdges">
<path d="M295.21,1505.55V2577.45M430.82,1505.55V2577.45M566.43,1505.55V2577.45M702.04,1505.55V2577.45M837.65,1505.55V2577.45M973.26,1505.55V2577.45M1108.87,1505.55V2577.45M1244.48,1505.55V2577.45M1380.09,1505.55V2577.45M159.6,2470.26H1515.7M159.6,2363.07H1515.7M159.6,2255.88H1515.7M159.6,2148.69H1515.7M159.6,2041.5H1515.7M159.6,1934.31H1515.7M159.6,1827.12H1515.7M159.6,1719.93H1515.7M159.6,1612.74H1515.7" stroke="#dfdfdf" stroke-width="2.9" fill="none"/>
<path d="M295.21,2577.45v-15.3M295.21,1505.55v15.3M430.82,2577.45v-15.3M430.82,1505.55v15.3M566.43,2577.45v-15.3M566.43,1505.55v15.3M702.04,2577.45v-15.3M702.04,1505.55v15.3M837.65,2577.45v-15.3M837.65,1505.55v15.3M973.26,2577.45v-15.3M973.26,1505.55v15.3M1108.87,2577.45v-15.3M1108.87,1505.55v15.3M1244.48,2577.45v-15.3M1244.48,1505.55v15.3M1380.09,2577.45v-15.3M1380.09,1505.55v15.3M159.6,2470.26h15.3M1515.7,2470.26h-15.3M159.6,2363.07h15.3M1515.7,2363.07h-15.3M159.6,2255.88h15.3M1515.7,2255.88h-15.3M159.6,2148.69h15.3M1515.7,2148.69h-15.3M159.6,2041.5h15.3M1515.7,2041.5h-15.3M159.6,1934.31h15.3M1515.7,1934.31h-15.3M159.6,1827.12h15.3M1515.7,1827.12h-15.3M159.6,1719.93h15.3M1515.7,1719.93h-15.3M159.6,1612.74h15.3M1515.7,1612.74h-15.3" stroke="#222222" stroke-width="2.8" fill="none"/>
<rect x="159.6" y="1505.55" width="1356.1" height="1071.9" fill="none" stroke="#222222" stroke-width="2.8"/>
</g>
<g class="tk" text-anchor="middle">
<text x="159.3" y="2638.45">-10</text>
<text x="294.91" y="2638.45">-8</text>
<text x="430.52" y="2638.45">-6</text>
<text x="566.13" y="2638.45">-4</text>
<text x="701.74" y="2638.45">-2</text>
<text x="836.35" y="2638.45">0</text>
<text x="971.96" y="2638.45">2</text>
<text x="1107.57" y="2638.45">4</text>
<text x="1243.18" y="2638.45">6</text>
<text x="1378.79" y="2638.45">8</text>
<text x="1514.4" y="2638.45">10</text>
</g>
<g class="tk" text-anchor="end">
<text x="141.6" y="2594.15">0</text>
<text x="141.6" y="2487.56">0.1</text>
<text x="141.6" y="2380.37">0.2</text>
<text x="141.6" y="2273.18">0.3</text>
<text x="141.6" y="2165.99">0.4</text>
<text x="141.6" y="2058.8">0.5</text>
<text x="141.6" y="1951.61">0.6</text>
<text x="141.6" y="1844.42">0.7</text>
<text x="141.6" y="1737.23">0.8</text>
<text x="141.6" y="1630.04">0.9</text>
<text x="141.6" y="1521.15">1</text>
</g>
<path d="M120.1,2482.77h8.58v5.83h-8.58zM132.68,2482.77h8.54v5.83h-8.54zM120.1,1516.36h8.58v5.83h-8.58zM132.68,1516.36h8.54v5.83h-8.54zM144.74,2633.66h8.58v5.83h-8.58zM157.32,2633.66h8.54v5.83h-8.54zM1492.9,2633.66h8.58v5.83h-8.58zM1505.48,2633.66h8.54v5.83h-8.54z" fill="#fff"/>
<text class="lb" text-anchor="middle" x="836.65" y="2697.55">SCR (dB)</text>
<text class="lb" text-anchor="middle" transform="translate(59.1,2041.5) rotate(-90)">Pd</text>
<g shape-rendering="crispEdges">
<path d="M159.6,2561.91L227.41,2533.29L295.21,2490.3L363.01,2422.67L430.82,2327.91L498.62,2214.4L566.43,2092.42L634.24,1974.83L702.04,1871.07L769.85,1781.99L837.65,1712.21L905.46,1655.4L973.26,1615.74L1041.07,1584.01L1108.87,1561.29L1176.67,1545.1L1244.48,1533.1L1312.29,1525.27L1380.09,1519.81L1447.89,1515.3L1515.7,1512.52" fill="none" stroke="#ff0000" stroke-width="8.3" stroke-linejoin="round"/>
<circle cx="159.6" cy="2561.91" r="12.2" fill="none" stroke="#ff0000" stroke-width="7.7"/>
<circle cx="227.41" cy="2533.29" r="12.2" fill="none" stroke="#ff0000" stroke-width="7.7"/>
<circle cx="295.21" cy="2490.3" r="12.2" fill="none" stroke="#ff0000" stroke-width="7.7"/>
<circle cx="363.01" cy="2422.67" r="12.2" fill="none" stroke="#ff0000" stroke-width="7.7"/>
<circle cx="430.82" cy="2327.91" r="12.2" fill="none" stroke="#ff0000" stroke-width="7.7"/>
<circle cx="498.62" cy="2214.4" r="12.2" fill="none" stroke="#ff0000" stroke-width="7.7"/>
<circle cx="566.43" cy="2092.42" r="12.2" fill="none" stroke="#ff0000" stroke-width="7.7"/>
<circle cx="634.24" cy="1974.83" r="12.2" fill="none" stroke="#ff0000" stroke-width="7.7"/>
<circle cx="702.04" cy="1871.07" r="12.2" fill="none" stroke="#ff0000" stroke-width="7.7"/>
<circle cx="769.85" cy="1781.99" r="12.2" fill="none" stroke="#ff0000" stroke-width="7.7"/>
<circle cx="837.65" cy="1712.21" r="12.2" fill="none" stroke="#ff0000" stroke-width="7.7"/>
<circle cx="905.46" cy="1655.4" r="12.2" fill="none" stroke="#ff0000" stroke-width="7.7"/>
<circle cx="973.26" cy="1615.74" r="12.2" fill="none" stroke="#ff0000" stroke-width="7.7"/>
<circle cx="1041.07" cy="1584.01" r="12.2" fill="none" stroke="#ff0000" stroke-width="7.7"/>
<circle cx="1108.87" cy="1561.29" r="12.2" fill="none" stroke="#ff0000" stroke-width="7.7"/>
<circle cx="1176.67" cy="1545.1" r="12.2" fill="none" stroke="#ff0000" stroke-width="7.7"/>
<circle cx="1244.48" cy="1533.1" r="12.2" fill="none" stroke="#ff0000" stroke-width="7.7"/>
<circle cx="1312.29" cy="1525.27" r="12.2" fill="none" stroke="#ff0000" stroke-width="7.7"/>
<circle cx="1380.09" cy="1519.81" r="12.2" fill="none" stroke="#ff0000" stroke-width="7.7"/>
<circle cx="1447.89" cy="1515.3" r="12.2" fill="none" stroke="#ff0000" stroke-width="7.7"/>
<circle cx="1515.7" cy="1512.52" r="12.2" fill="none" stroke="#ff0000" stroke-width="7.7"/>
<path d="M159.6,2566.2L227.41,2544.65L295.21,2510.99L363.01,2460.29L430.82,2380.97L498.62,2276.25L566.43,2157.27L634.24,2035.71L702.04,1923.81L769.85,1826.26L837.65,1746.51L905.46,1684.02L973.26,1635.04L1041.07,1600.95L1108.87,1573.94L1176.67,1554.64L1244.48,1540.92L1312.29,1530.53L1380.09,1523.24L1447.89,1518.73L1515.7,1514.55" fill="none" stroke="#ff0000" stroke-width="7.8" stroke-linejoin="round" stroke-dasharray="26.0 24.0"/>
<circle cx="159.6" cy="2566.2" r="12.2" fill="none" stroke="#ff0000" stroke-width="7.7"/>
<circle cx="227.41" cy="2544.65" r="12.2" fill="none" stroke="#ff0000" stroke-width="7.7"/>
<circle cx="295.21" cy="2510.99" r="12.2" fill="none" stroke="#ff0000" stroke-width="7.7"/>
<circle cx="363.01" cy="2460.29" r="12.2" fill="none" stroke="#ff0000" stroke-width="7.7"/>
<circle cx="430.82" cy="2380.97" r="12.2" fill="none" stroke="#ff0000" stroke-width="7.7"/>
<circle cx="498.62" cy="2276.25" r="12.2" fill="none" stroke="#ff0000" stroke-width="7.7"/>
<circle cx="566.43" cy="2157.27" r="12.2" fill="none" stroke="#ff0000" stroke-width="7.7"/>
<circle cx="634.24" cy="2035.71" r="12.2" fill="none" stroke="#ff0000" stroke-width="7.7"/>
<circle cx="702.04" cy="1923.81" r="12.2" fill="none" stroke="#ff0000" stroke-width="7.7"/>
<circle cx="769.85" cy="1826.26" r="12.2" fill="none" stroke="#ff0000" stroke-width="7.7"/>
<circle cx="837.65" cy="1746.51" r="12.2" fill="none" stroke="#ff0000" stroke-width="7.7"/>
<circle cx="905.46" cy="1684.02" r="12.2" fill="none" stroke="#ff0000" stroke-width="7.7"/>
<circle cx="973.26" cy="1635.04" r="12.2" fill="none" stroke="#ff0000" stroke-width="7.7"/>
<circle cx="1041.07" cy="1600.95" r="12.2" fill="none" stroke="#ff0000" stroke-width="7.7"/>
<circle cx="1108.87" cy="1573.94" r="12.2" fill="none" stroke="#ff0000" stroke-width="7.7"/>
<circle cx="1176.67" cy="1554.64" r="12.2" fill="none" stroke="#ff0000" stroke-width="7.7"/>
<circle cx="1244.48" cy="1540.92" r="12.2" fill="none" stroke="#ff0000" stroke-width="7.7"/>
<circle cx="1312.29" cy="1530.53" r="12.2" fill="none" stroke="#ff0000" stroke-width="7.7"/>
<circle cx="1380.09" cy="1523.24" r="12.2" fill="none" stroke="#ff0000" stroke-width="7.7"/>
<circle cx="1447.89" cy="1518.73" r="12.2" fill="none" stroke="#ff0000" stroke-width="7.7"/>
<circle cx="1515.7" cy="1514.55" r="12.2" fill="none" stroke="#ff0000" stroke-width="7.7"/>
<path d="M159.6,2551.19L227.41,2532.39L295.21,2504.09L363.01,2464.32L430.82,2411.48L498.62,2347.38L566.43,2272.56L634.24,2190.88L702.04,2104.91L769.85,2022.48L837.65,1943.06L905.46,1872.53L973.26,1809.39L1041.07,1752.69L1108.87,1707.35L1176.67,1667.58L1244.48,1636.39L1312.29,1609.7L1380.09,1588.26L1447.89,1570.57L1515.7,1557.82" fill="none" stroke="#000000" stroke-width="8.3" stroke-linejoin="round"/>
<path d="M158.8,2529.19L160.4,2529.19L165.3,2543.74L180.66,2543.91L181.15,2545.43L168.83,2554.59L173.41,2569.24L172.12,2570.18L159.6,2561.29L147.08,2570.18L145.79,2569.24L150.37,2554.59L138.05,2545.43L138.54,2543.91L153.9,2543.74Z" fill="#000000" stroke="#000000" stroke-width="0.6" stroke-linejoin="miter" stroke-miterlimit="10"/>
<path d="M226.6,2510.39L228.21,2510.39L233.11,2524.94L248.46,2525.1L248.96,2526.63L236.63,2535.78L241.22,2550.44L239.92,2551.38L227.41,2542.49L214.89,2551.38L213.59,2550.44L218.18,2535.78L205.85,2526.63L206.35,2525.1L221.7,2524.94Z" fill="#000000" stroke="#000000" stroke-width="0.6" stroke-linejoin="miter" stroke-miterlimit="10"/>
<path d="M294.41,2482.09L296.01,2482.09L300.91,2496.64L316.27,2496.81L316.76,2498.33L304.44,2507.49L309.02,2522.14L307.73,2523.08L295.21,2514.19L282.69,2523.08L281.4,2522.14L285.98,2507.49L273.66,2498.33L274.15,2496.81L289.51,2496.64Z" fill="#000000" stroke="#000000" stroke-width="0.6" stroke-linejoin="miter" stroke-miterlimit="10"/>
<path d="M362.21,2442.32L363.81,2442.32L368.72,2456.87L384.07,2457.04L384.57,2458.56L372.24,2467.72L376.83,2482.37L375.53,2483.31L363.01,2474.42L350.5,2483.31L349.2,2482.37L353.79,2467.72L341.46,2458.56L341.96,2457.04L357.31,2456.87Z" fill="#000000" stroke="#000000" stroke-width="0.6" stroke-linejoin="miter" stroke-miterlimit="10"/>
<path d="M430.02,2389.48L431.62,2389.48L436.52,2404.03L451.88,2404.19L452.37,2405.72L440.05,2414.87L444.63,2429.53L443.34,2430.47L430.82,2421.58L418.3,2430.47L417.01,2429.53L421.59,2414.87L409.27,2405.72L409.76,2404.19L425.12,2404.03Z" fill="#000000" stroke="#000000" stroke-width="0.6" stroke-linejoin="miter" stroke-miterlimit="10"/>
<path d="M497.82,2325.38L499.43,2325.38L504.33,2339.93L519.68,2340.09L520.18,2341.62L507.85,2350.77L512.44,2365.43L511.14,2366.37L498.62,2357.48L486.11,2366.37L484.81,2365.43L489.4,2350.77L477.07,2341.62L477.57,2340.09L492.92,2339.93Z" fill="#000000" stroke="#000000" stroke-width="0.6" stroke-linejoin="miter" stroke-miterlimit="10"/>
<path d="M565.63,2250.56L567.23,2250.56L572.13,2265.11L587.49,2265.28L587.98,2266.8L575.66,2275.96L580.24,2290.61L578.95,2291.55L566.43,2282.66L553.91,2291.55L552.62,2290.61L557.2,2275.96L544.88,2266.8L545.37,2265.28L560.73,2265.11Z" fill="#000000" stroke="#000000" stroke-width="0.6" stroke-linejoin="miter" stroke-miterlimit="10"/>
<path d="M633.44,2168.88L635.03,2168.88L639.94,2183.43L655.29,2183.6L655.79,2185.12L643.46,2194.28L648.05,2208.93L646.75,2209.87L634.24,2200.98L621.72,2209.87L620.42,2208.93L625.01,2194.28L612.68,2185.12L613.18,2183.6L628.53,2183.43Z" fill="#000000" stroke="#000000" stroke-width="0.6" stroke-linejoin="miter" stroke-miterlimit="10"/>
<path d="M701.24,2082.91L702.84,2082.91L707.74,2097.47L723.1,2097.63L723.59,2099.15L711.27,2108.31L715.85,2122.97L714.56,2123.91L702.04,2115.01L689.52,2123.91L688.23,2122.97L692.81,2108.31L680.49,2099.15L680.98,2097.63L696.34,2097.47Z" fill="#000000" stroke="#000000" stroke-width="0.6" stroke-linejoin="miter" stroke-miterlimit="10"/>
<path d="M769.05,2000.48L770.65,2000.48L775.55,2015.04L790.9,2015.2L791.4,2016.72L779.07,2025.88L783.66,2040.54L782.36,2041.48L769.85,2032.58L757.33,2041.48L756.03,2040.54L760.62,2025.88L748.29,2016.72L748.79,2015.2L764.14,2015.04Z" fill="#000000" stroke="#000000" stroke-width="0.6" stroke-linejoin="miter" stroke-miterlimit="10"/>
<path d="M836.85,1921.06L838.45,1921.06L843.35,1935.61L858.71,1935.77L859.2,1937.3L846.88,1946.45L851.46,1961.11L850.17,1962.05L837.65,1953.16L825.13,1962.05L823.84,1961.11L828.42,1946.45L816.1,1937.3L816.59,1935.77L831.95,1935.61Z" fill="#000000" stroke="#000000" stroke-width="0.6" stroke-linejoin="miter" stroke-miterlimit="10"/>
<path d="M904.66,1850.53L906.25,1850.53L911.16,1865.08L926.51,1865.24L927.01,1866.76L914.68,1875.92L919.27,1890.58L917.97,1891.52L905.46,1882.63L892.94,1891.52L891.64,1890.58L896.23,1875.92L883.9,1866.76L884.4,1865.24L899.75,1865.08Z" fill="#000000" stroke="#000000" stroke-width="0.6" stroke-linejoin="miter" stroke-miterlimit="10"/>
<path d="M972.46,1787.39L974.06,1787.39L978.96,1801.94L994.32,1802.11L994.81,1803.63L982.49,1812.79L987.07,1827.44L985.78,1828.38L973.26,1819.49L960.74,1828.38L959.45,1827.44L964.03,1812.79L951.71,1803.63L952.2,1802.11L967.56,1801.94Z" fill="#000000" stroke="#000000" stroke-width="0.6" stroke-linejoin="miter" stroke-miterlimit="10"/>
<path d="M1040.27,1730.69L1041.87,1730.69L1046.77,1745.24L1062.12,1745.4L1062.62,1746.93L1050.29,1756.08L1054.88,1770.74L1053.58,1771.68L1041.07,1762.79L1028.55,1771.68L1027.25,1770.74L1031.84,1756.08L1019.51,1746.93L1020.01,1745.4L1035.36,1745.24Z" fill="#000000" stroke="#000000" stroke-width="0.6" stroke-linejoin="miter" stroke-miterlimit="10"/>
<path d="M1108.07,1685.35L1109.67,1685.35L1114.57,1699.9L1129.93,1700.06L1130.42,1701.58L1118.1,1710.74L1122.68,1725.4L1121.39,1726.34L1108.87,1717.45L1096.35,1726.34L1095.06,1725.4L1099.64,1710.74L1087.32,1701.58L1087.81,1700.06L1103.17,1699.9Z" fill="#000000" stroke="#000000" stroke-width="0.6" stroke-linejoin="miter" stroke-miterlimit="10"/>
<path d="M1175.88,1645.58L1177.47,1645.58L1182.38,1660.13L1197.73,1660.3L1198.23,1661.82L1185.9,1670.98L1190.49,1685.63L1189.19,1686.57L1176.67,1677.68L1164.16,1686.57L1162.86,1685.63L1167.45,1670.98L1155.12,1661.82L1155.62,1660.3L1170.97,1660.13Z" fill="#000000" stroke="#000000" stroke-width="0.6" stroke-linejoin="miter" stroke-miterlimit="10"/>
<path d="M1243.68,1614.39L1245.28,1614.39L1250.18,1628.94L1265.54,1629.1L1266.03,1630.62L1253.71,1639.78L1258.29,1654.44L1257,1655.38L1244.48,1646.49L1231.96,1655.38L1230.67,1654.44L1235.25,1639.78L1222.93,1630.62L1223.42,1629.1L1238.78,1628.94Z" fill="#000000" stroke="#000000" stroke-width="0.6" stroke-linejoin="miter" stroke-miterlimit="10"/>
<path d="M1311.49,1587.7L1313.09,1587.7L1317.99,1602.25L1333.34,1602.41L1333.84,1603.93L1321.51,1613.09L1326.1,1627.75L1324.8,1628.69L1312.29,1619.8L1299.77,1628.69L1298.47,1627.75L1303.06,1613.09L1290.73,1603.93L1291.23,1602.41L1306.58,1602.25Z" fill="#000000" stroke="#000000" stroke-width="0.6" stroke-linejoin="miter" stroke-miterlimit="10"/>
<path d="M1379.29,1566.26L1380.89,1566.26L1385.79,1580.81L1401.15,1580.97L1401.64,1582.5L1389.32,1591.66L1393.9,1606.31L1392.61,1607.25L1380.09,1598.36L1367.57,1607.25L1366.28,1606.31L1370.86,1591.66L1358.54,1582.5L1359.03,1580.97L1374.39,1580.81Z" fill="#000000" stroke="#000000" stroke-width="0.6" stroke-linejoin="miter" stroke-miterlimit="10"/>
<path d="M1447.1,1548.57L1448.69,1548.57L1453.6,1563.12L1468.95,1563.29L1469.45,1564.81L1457.12,1573.97L1461.71,1588.62L1460.41,1589.56L1447.89,1580.67L1435.38,1589.56L1434.08,1588.62L1438.67,1573.97L1426.34,1564.81L1426.84,1563.29L1442.19,1563.12Z" fill="#000000" stroke="#000000" stroke-width="0.6" stroke-linejoin="miter" stroke-miterlimit="10"/>
<path d="M1514.9,1535.82L1516.5,1535.82L1521.4,1550.37L1536.76,1550.53L1537.25,1552.05L1524.93,1561.21L1529.51,1575.87L1528.22,1576.81L1515.7,1567.92L1503.18,1576.81L1501.89,1575.87L1506.47,1561.21L1494.15,1552.05L1494.64,1550.53L1510,1550.37Z" fill="#000000" stroke="#000000" stroke-width="0.6" stroke-linejoin="miter" stroke-miterlimit="10"/>
<path d="M159.6,2559.87L227.41,2544.93L295.21,2525.63L363.01,2496.16L430.82,2452.75L498.62,2397.65L566.43,2330.12L634.24,2253.26L702.04,2169.33L769.85,2085.94L837.65,2002.33L905.46,1925.8L973.26,1856.55L1041.07,1795.24L1108.87,1742.83L1176.67,1697.38L1244.48,1660.5L1312.29,1629.1L1380.09,1603.48L1447.89,1583.65L1515.7,1567.14" fill="none" stroke="#000000" stroke-width="7.8" stroke-linejoin="round" stroke-dasharray="26.0 24.0"/>
<path d="M158.8,2537.87L160.4,2537.87L165.3,2552.42L180.66,2552.59L181.15,2554.11L168.83,2563.27L173.41,2577.92L172.12,2578.86L159.6,2569.97L147.08,2578.86L145.79,2577.92L150.37,2563.27L138.05,2554.11L138.54,2552.59L153.9,2552.42Z" fill="#000000" stroke="#000000" stroke-width="0.6" stroke-linejoin="miter" stroke-miterlimit="10"/>
<path d="M226.6,2522.93L228.21,2522.93L233.11,2537.48L248.46,2537.65L248.96,2539.17L236.63,2548.33L241.22,2562.98L239.92,2563.92L227.41,2555.03L214.89,2563.92L213.59,2562.98L218.18,2548.33L205.85,2539.17L206.35,2537.65L221.7,2537.48Z" fill="#000000" stroke="#000000" stroke-width="0.6" stroke-linejoin="miter" stroke-miterlimit="10"/>
<path d="M294.41,2503.63L296.01,2503.63L300.91,2518.19L316.27,2518.35L316.76,2519.87L304.44,2529.03L309.02,2543.69L307.73,2544.63L295.21,2535.73L282.69,2544.63L281.4,2543.69L285.98,2529.03L273.66,2519.87L274.15,2518.35L289.51,2518.19Z" fill="#000000" stroke="#000000" stroke-width="0.6" stroke-linejoin="miter" stroke-miterlimit="10"/>
<path d="M362.21,2474.16L363.81,2474.16L368.72,2488.71L384.07,2488.87L384.57,2490.4L372.24,2499.55L376.83,2514.21L375.53,2515.15L363.01,2506.26L350.5,2515.15L349.2,2514.21L353.79,2499.55L341.46,2490.4L341.96,2488.87L357.31,2488.71Z" fill="#000000" stroke="#000000" stroke-width="0.6" stroke-linejoin="miter" stroke-miterlimit="10"/>
<path d="M430.02,2430.75L431.62,2430.75L436.52,2445.3L451.88,2445.46L452.37,2446.98L440.05,2456.14L444.63,2470.8L443.34,2471.74L430.82,2462.85L418.3,2471.74L417.01,2470.8L421.59,2456.14L409.27,2446.98L409.76,2445.46L425.12,2445.3Z" fill="#000000" stroke="#000000" stroke-width="0.6" stroke-linejoin="miter" stroke-miterlimit="10"/>
<path d="M497.82,2375.65L499.43,2375.65L504.33,2390.2L519.68,2390.37L520.18,2391.89L507.85,2401.05L512.44,2415.7L511.14,2416.64L498.62,2407.75L486.11,2416.64L484.81,2415.7L489.4,2401.05L477.07,2391.89L477.57,2390.37L492.92,2390.2Z" fill="#000000" stroke="#000000" stroke-width="0.6" stroke-linejoin="miter" stroke-miterlimit="10"/>
<path d="M565.63,2308.12L567.23,2308.12L572.13,2322.67L587.49,2322.84L587.98,2324.36L575.66,2333.52L580.24,2348.17L578.95,2349.11L566.43,2340.22L553.91,2349.11L552.62,2348.17L557.2,2333.52L544.88,2324.36L545.37,2322.84L560.73,2322.67Z" fill="#000000" stroke="#000000" stroke-width="0.6" stroke-linejoin="miter" stroke-miterlimit="10"/>
<path d="M633.44,2231.26L635.03,2231.26L639.94,2245.82L655.29,2245.98L655.79,2247.5L643.46,2256.66L648.05,2271.32L646.75,2272.26L634.24,2263.36L621.72,2272.26L620.42,2271.32L625.01,2256.66L612.68,2247.5L613.18,2245.98L628.53,2245.82Z" fill="#000000" stroke="#000000" stroke-width="0.6" stroke-linejoin="miter" stroke-miterlimit="10"/>
<path d="M701.24,2147.33L702.84,2147.33L707.74,2161.89L723.1,2162.05L723.59,2163.57L711.27,2172.73L715.85,2187.39L714.56,2188.33L702.04,2179.43L689.52,2188.33L688.23,2187.39L692.81,2172.73L680.49,2163.57L680.98,2162.05L696.34,2161.89Z" fill="#000000" stroke="#000000" stroke-width="0.6" stroke-linejoin="miter" stroke-miterlimit="10"/>
<path d="M769.05,2063.94L770.65,2063.94L775.55,2078.49L790.9,2078.66L791.4,2080.18L779.07,2089.34L783.66,2103.99L782.36,2104.93L769.85,2096.04L757.33,2104.93L756.03,2103.99L760.62,2089.34L748.29,2080.18L748.79,2078.66L764.14,2078.49Z" fill="#000000" stroke="#000000" stroke-width="0.6" stroke-linejoin="miter" stroke-miterlimit="10"/>
<path d="M836.85,1980.33L838.45,1980.33L843.35,1994.89L858.71,1995.05L859.2,1996.57L846.88,2005.73L851.46,2020.38L850.17,2021.32L837.65,2012.43L825.13,2021.32L823.84,2020.38L828.42,2005.73L816.1,1996.57L816.59,1995.05L831.95,1994.89Z" fill="#000000" stroke="#000000" stroke-width="0.6" stroke-linejoin="miter" stroke-miterlimit="10"/>
<path d="M904.66,1903.8L906.25,1903.8L911.16,1918.35L926.51,1918.52L927.01,1920.04L914.68,1929.2L919.27,1943.85L917.97,1944.79L905.46,1935.9L892.94,1944.79L891.64,1943.85L896.23,1929.2L883.9,1920.04L884.4,1918.52L899.75,1918.35Z" fill="#000000" stroke="#000000" stroke-width="0.6" stroke-linejoin="miter" stroke-miterlimit="10"/>
<path d="M972.46,1834.55L974.06,1834.55L978.96,1849.11L994.32,1849.27L994.81,1850.79L982.49,1859.95L987.07,1874.61L985.78,1875.55L973.26,1866.65L960.74,1875.55L959.45,1874.61L964.03,1859.95L951.71,1850.79L952.2,1849.27L967.56,1849.11Z" fill="#000000" stroke="#000000" stroke-width="0.6" stroke-linejoin="miter" stroke-miterlimit="10"/>
<path d="M1040.27,1773.24L1041.87,1773.24L1046.77,1787.79L1062.12,1787.96L1062.62,1789.48L1050.29,1798.64L1054.88,1813.29L1053.58,1814.23L1041.07,1805.34L1028.55,1814.23L1027.25,1813.29L1031.84,1798.64L1019.51,1789.48L1020.01,1787.96L1035.36,1787.79Z" fill="#000000" stroke="#000000" stroke-width="0.6" stroke-linejoin="miter" stroke-miterlimit="10"/>
<path d="M1108.07,1720.83L1109.67,1720.83L1114.57,1735.38L1129.93,1735.54L1130.42,1737.06L1118.1,1746.22L1122.68,1760.88L1121.39,1761.82L1108.87,1752.93L1096.35,1761.82L1095.06,1760.88L1099.64,1746.22L1087.32,1737.06L1087.81,1735.54L1103.17,1735.38Z" fill="#000000" stroke="#000000" stroke-width="0.6" stroke-linejoin="miter" stroke-miterlimit="10"/>
<path d="M1175.88,1675.38L1177.47,1675.38L1182.38,1689.93L1197.73,1690.09L1198.23,1691.62L1185.9,1700.77L1190.49,1715.43L1189.19,1716.37L1176.67,1707.48L1164.16,1716.37L1162.86,1715.43L1167.45,1700.77L1155.12,1691.62L1155.62,1690.09L1170.97,1689.93Z" fill="#000000" stroke="#000000" stroke-width="0.6" stroke-linejoin="miter" stroke-miterlimit="10"/>
<path d="M1243.68,1638.5L1245.28,1638.5L1250.18,1653.06L1265.54,1653.22L1266.03,1654.74L1253.71,1663.9L1258.29,1678.56L1257,1679.5L1244.48,1670.6L1231.96,1679.5L1230.67,1678.56L1235.25,1663.9L1222.93,1654.74L1223.42,1653.22L1238.78,1653.06Z" fill="#000000" stroke="#000000" stroke-width="0.6" stroke-linejoin="miter" stroke-miterlimit="10"/>
<path d="M1311.49,1607.1L1313.09,1607.1L1317.99,1621.65L1333.34,1621.81L1333.84,1623.34L1321.51,1632.49L1326.1,1647.15L1324.8,1648.09L1312.29,1639.2L1299.77,1648.09L1298.47,1647.15L1303.06,1632.49L1290.73,1623.34L1291.23,1621.81L1306.58,1621.65Z" fill="#000000" stroke="#000000" stroke-width="0.6" stroke-linejoin="miter" stroke-miterlimit="10"/>
<path d="M1379.29,1581.48L1380.89,1581.48L1385.79,1596.03L1401.15,1596.2L1401.64,1597.72L1389.32,1606.88L1393.9,1621.53L1392.61,1622.47L1380.09,1613.58L1367.57,1622.47L1366.28,1621.53L1370.86,1606.88L1358.54,1597.72L1359.03,1596.2L1374.39,1596.03Z" fill="#000000" stroke="#000000" stroke-width="0.6" stroke-linejoin="miter" stroke-miterlimit="10"/>
<path d="M1447.1,1561.65L1448.69,1561.65L1453.6,1576.2L1468.95,1576.37L1469.45,1577.89L1457.12,1587.05L1461.71,1601.7L1460.41,1602.64L1447.89,1593.75L1435.38,1602.64L1434.08,1601.7L1438.67,1587.05L1426.34,1577.89L1426.84,1576.37L1442.19,1576.2Z" fill="#000000" stroke="#000000" stroke-width="0.6" stroke-linejoin="miter" stroke-miterlimit="10"/>
<path d="M1514.9,1545.14L1516.5,1545.14L1521.4,1559.69L1536.76,1559.86L1537.25,1561.38L1524.93,1570.54L1529.51,1585.19L1528.22,1586.13L1515.7,1577.24L1503.18,1586.13L1501.89,1585.19L1506.47,1570.54L1494.15,1561.38L1494.64,1559.86L1510,1559.69Z" fill="#000000" stroke="#000000" stroke-width="0.6" stroke-linejoin="miter" stroke-miterlimit="10"/>
<path d="M159.6,2567.27L227.41,2564.59L295.21,2561.59L363.01,2558.16L430.82,2552.58L498.62,2548.29L566.43,2541.22L634.24,2533.61L702.04,2525.14L769.85,2515.17L837.65,2503.6L905.46,2489.45L973.26,2473.69L1041.07,2457.18L1108.87,2438.1L1176.67,2417.31L1244.48,2394.48L1312.29,2370.04L1380.09,2349.03L1447.89,2327.48L1515.7,2309.37" fill="none" stroke="#0000ff" stroke-width="8.3" stroke-linejoin="round"/>
<path d="M146.6,2567.27L172.6,2567.27M150.41,2558.07L168.79,2576.46M159.6,2554.27L159.6,2580.27M168.79,2558.07L150.41,2576.46" fill="none" stroke="#0000ff" stroke-width="7.3"/>
<path d="M214.41,2564.59L240.41,2564.59M218.21,2555.39L236.6,2573.78M227.41,2551.59L227.41,2577.59M236.6,2555.39L218.21,2573.78" fill="none" stroke="#0000ff" stroke-width="7.3"/>
<path d="M282.21,2561.59L308.21,2561.59M286.02,2552.39L304.4,2570.78M295.21,2548.59L295.21,2574.59M304.4,2552.39L286.02,2570.78" fill="none" stroke="#0000ff" stroke-width="7.3"/>
<path d="M350.01,2558.16L376.01,2558.16M353.82,2548.96L372.21,2567.35M363.01,2545.16L363.01,2571.16M372.21,2548.96L353.82,2567.35" fill="none" stroke="#0000ff" stroke-width="7.3"/>
<path d="M417.82,2552.58L443.82,2552.58M421.63,2543.39L440.01,2561.77M430.82,2539.58L430.82,2565.58M440.01,2543.39L421.63,2561.77" fill="none" stroke="#0000ff" stroke-width="7.3"/>
<path d="M485.62,2548.29L511.62,2548.29M489.43,2539.1L507.82,2557.49M498.62,2535.29L498.62,2561.29M507.82,2539.1L489.43,2557.49" fill="none" stroke="#0000ff" stroke-width="7.3"/>
<path d="M553.43,2541.22L579.43,2541.22M557.24,2532.03L575.62,2550.41M566.43,2528.22L566.43,2554.22M575.62,2532.03L557.24,2550.41" fill="none" stroke="#0000ff" stroke-width="7.3"/>
<path d="M621.24,2533.61L647.24,2533.61M625.04,2524.42L643.43,2542.8M634.24,2520.61L634.24,2546.61M643.43,2524.42L625.04,2542.8" fill="none" stroke="#0000ff" stroke-width="7.3"/>
<path d="M689.04,2525.14L715.04,2525.14M692.85,2515.95L711.23,2534.33M702.04,2512.14L702.04,2538.14M711.23,2515.95L692.85,2534.33" fill="none" stroke="#0000ff" stroke-width="7.3"/>
<path d="M756.85,2515.17L782.85,2515.17M760.65,2505.98L779.04,2524.36M769.85,2502.17L769.85,2528.17M779.04,2505.98L760.65,2524.36" fill="none" stroke="#0000ff" stroke-width="7.3"/>
<path d="M824.65,2503.6L850.65,2503.6M828.46,2494.4L846.84,2512.79M837.65,2490.6L837.65,2516.6M846.84,2494.4L828.46,2512.79" fill="none" stroke="#0000ff" stroke-width="7.3"/>
<path d="M892.46,2489.45L918.46,2489.45M896.26,2480.25L914.65,2498.64M905.46,2476.45L905.46,2502.45M914.65,2480.25L896.26,2498.64" fill="none" stroke="#0000ff" stroke-width="7.3"/>
<path d="M960.26,2473.69L986.26,2473.69M964.07,2464.5L982.45,2482.88M973.26,2460.69L973.26,2486.69M982.45,2464.5L964.07,2482.88" fill="none" stroke="#0000ff" stroke-width="7.3"/>
<path d="M1028.07,2457.18L1054.07,2457.18M1031.87,2447.99L1050.26,2466.38M1041.07,2444.18L1041.07,2470.18M1050.26,2447.99L1031.87,2466.38" fill="none" stroke="#0000ff" stroke-width="7.3"/>
<path d="M1095.87,2438.1L1121.87,2438.1M1099.68,2428.91L1118.06,2447.3M1108.87,2425.1L1108.87,2451.1M1118.06,2428.91L1099.68,2447.3" fill="none" stroke="#0000ff" stroke-width="7.3"/>
<path d="M1163.67,2417.31L1189.67,2417.31M1167.48,2408.12L1185.87,2426.5M1176.67,2404.31L1176.67,2430.31M1185.87,2408.12L1167.48,2426.5" fill="none" stroke="#0000ff" stroke-width="7.3"/>
<path d="M1231.48,2394.48L1257.48,2394.48M1235.29,2385.28L1253.67,2403.67M1244.48,2381.48L1244.48,2407.48M1253.67,2385.28L1235.29,2403.67" fill="none" stroke="#0000ff" stroke-width="7.3"/>
<path d="M1299.29,2370.04L1325.29,2370.04M1303.09,2360.84L1321.48,2379.23M1312.29,2357.04L1312.29,2383.04M1321.48,2360.84L1303.09,2379.23" fill="none" stroke="#0000ff" stroke-width="7.3"/>
<path d="M1367.09,2349.03L1393.09,2349.03M1370.9,2339.84L1389.28,2358.22M1380.09,2336.03L1380.09,2362.03M1389.28,2339.84L1370.9,2358.22" fill="none" stroke="#0000ff" stroke-width="7.3"/>
<path d="M1434.89,2327.48L1460.89,2327.48M1438.7,2318.29L1457.09,2336.68M1447.89,2314.48L1447.89,2340.48M1457.09,2318.29L1438.7,2336.68" fill="none" stroke="#0000ff" stroke-width="7.3"/>
<path d="M1502.7,2309.37L1528.7,2309.37M1506.51,2300.18L1524.89,2318.56M1515.7,2296.37L1515.7,2322.37M1524.89,2300.18L1506.51,2318.56" fill="none" stroke="#0000ff" stroke-width="7.3"/>
<path d="M159.6,2569.95L227.41,2568.45L295.21,2566.73L363.01,2564.48L430.82,2561.59L498.62,2558.26L566.43,2553.12L634.24,2548.62L702.04,2541.86L769.85,2534.15L837.65,2524.93L905.46,2514.74L973.26,2503.38L1041.07,2489.45L1108.87,2474.65L1176.67,2456.86L1244.48,2439.28L1312.29,2418.27L1380.09,2400.05L1447.89,2381.4L1515.7,2366.07" fill="none" stroke="#0000ff" stroke-width="7.8" stroke-linejoin="round" stroke-dasharray="26.0 24.0"/>
<path d="M146.6,2569.95L172.6,2569.95M150.41,2560.75L168.79,2579.14M159.6,2556.95L159.6,2582.95M168.79,2560.75L150.41,2579.14" fill="none" stroke="#0000ff" stroke-width="7.3"/>
<path d="M214.41,2568.45L240.41,2568.45M218.21,2559.25L236.6,2577.64M227.41,2555.45L227.41,2581.45M236.6,2559.25L218.21,2577.64" fill="none" stroke="#0000ff" stroke-width="7.3"/>
<path d="M282.21,2566.73L308.21,2566.73M286.02,2557.54L304.4,2575.92M295.21,2553.73L295.21,2579.73M304.4,2557.54L286.02,2575.92" fill="none" stroke="#0000ff" stroke-width="7.3"/>
<path d="M350.01,2564.48L376.01,2564.48M353.82,2555.29L372.21,2573.67M363.01,2551.48L363.01,2577.48M372.21,2555.29L353.82,2573.67" fill="none" stroke="#0000ff" stroke-width="7.3"/>
<path d="M417.82,2561.59L443.82,2561.59M421.63,2552.39L440.01,2570.78M430.82,2548.59L430.82,2574.59M440.01,2552.39L421.63,2570.78" fill="none" stroke="#0000ff" stroke-width="7.3"/>
<path d="M485.62,2558.26L511.62,2558.26M489.43,2549.07L507.82,2567.46M498.62,2545.26L498.62,2571.26M507.82,2549.07L489.43,2567.46" fill="none" stroke="#0000ff" stroke-width="7.3"/>
<path d="M553.43,2553.12L579.43,2553.12M557.24,2543.93L575.62,2562.31M566.43,2540.12L566.43,2566.12M575.62,2543.93L557.24,2562.31" fill="none" stroke="#0000ff" stroke-width="7.3"/>
<path d="M621.24,2548.62L647.24,2548.62M625.04,2539.42L643.43,2557.81M634.24,2535.62L634.24,2561.62M643.43,2539.42L625.04,2557.81" fill="none" stroke="#0000ff" stroke-width="7.3"/>
<path d="M689.04,2541.86L715.04,2541.86M692.85,2532.67L711.23,2551.06M702.04,2528.86L702.04,2554.86M711.23,2532.67L692.85,2551.06" fill="none" stroke="#0000ff" stroke-width="7.3"/>
<path d="M756.85,2534.15L782.85,2534.15M760.65,2524.95L779.04,2543.34M769.85,2521.15L769.85,2547.15M779.04,2524.95L760.65,2543.34" fill="none" stroke="#0000ff" stroke-width="7.3"/>
<path d="M824.65,2524.93L850.65,2524.93M828.46,2515.73L846.84,2534.12M837.65,2511.93L837.65,2537.93M846.84,2515.73L828.46,2534.12" fill="none" stroke="#0000ff" stroke-width="7.3"/>
<path d="M892.46,2514.74L918.46,2514.74M896.26,2505.55L914.65,2523.94M905.46,2501.74L905.46,2527.74M914.65,2505.55L896.26,2523.94" fill="none" stroke="#0000ff" stroke-width="7.3"/>
<path d="M960.26,2503.38L986.26,2503.38M964.07,2494.19L982.45,2512.57M973.26,2490.38L973.26,2516.38M982.45,2494.19L964.07,2512.57" fill="none" stroke="#0000ff" stroke-width="7.3"/>
<path d="M1028.07,2489.45L1054.07,2489.45M1031.87,2480.25L1050.26,2498.64M1041.07,2476.45L1041.07,2502.45M1050.26,2480.25L1031.87,2498.64" fill="none" stroke="#0000ff" stroke-width="7.3"/>
<path d="M1095.87,2474.65L1121.87,2474.65M1099.68,2465.46L1118.06,2483.85M1108.87,2461.65L1108.87,2487.65M1118.06,2465.46L1099.68,2483.85" fill="none" stroke="#0000ff" stroke-width="7.3"/>
<path d="M1163.67,2456.86L1189.67,2456.86M1167.48,2447.67L1185.87,2466.05M1176.67,2443.86L1176.67,2469.86M1185.87,2447.67L1167.48,2466.05" fill="none" stroke="#0000ff" stroke-width="7.3"/>
<path d="M1231.48,2439.28L1257.48,2439.28M1235.29,2430.09L1253.67,2448.47M1244.48,2426.28L1244.48,2452.28M1253.67,2430.09L1235.29,2448.47" fill="none" stroke="#0000ff" stroke-width="7.3"/>
<path d="M1299.29,2418.27L1325.29,2418.27M1303.09,2409.08L1321.48,2427.47M1312.29,2405.27L1312.29,2431.27M1321.48,2409.08L1303.09,2427.47" fill="none" stroke="#0000ff" stroke-width="7.3"/>
<path d="M1367.09,2400.05L1393.09,2400.05M1370.9,2390.86L1389.28,2409.24M1380.09,2387.05L1380.09,2413.05M1389.28,2390.86L1370.9,2409.24" fill="none" stroke="#0000ff" stroke-width="7.3"/>
<path d="M1434.89,2381.4L1460.89,2381.4M1438.7,2372.21L1457.09,2390.59M1447.89,2368.4L1447.89,2394.4M1457.09,2372.21L1438.7,2390.59" fill="none" stroke="#0000ff" stroke-width="7.3"/>
<path d="M1502.7,2366.07L1528.7,2366.07M1506.51,2356.88L1524.89,2375.26M1515.7,2353.07L1515.7,2379.07M1524.89,2356.88L1506.51,2375.26" fill="none" stroke="#0000ff" stroke-width="7.3"/>
</g>
<rect x="180.9" y="1524.2" width="462.4" height="317.7" fill="#fff" stroke="#222222" stroke-width="3.1" shape-rendering="crispEdges"/>
<path d="M192.8,1555.4H319" fill="none" stroke="#ff0000" stroke-width="7.1"/>
<circle cx="255.9" cy="1555.4" r="12.2" fill="none" stroke="#ff0000" stroke-width="7.7"/>
<text class="lg" x="327.5" y="1570">TR-ALRT-WO(30)</text>
<path d="M192.8,1606.3H319" fill="none" stroke="#ff0000" stroke-width="7.1" stroke-dasharray="26.0 24.0"/>
<circle cx="255.9" cy="1606.3" r="12.2" fill="none" stroke="#ff0000" stroke-width="7.7"/>
<text class="lg" x="327.5" y="1620.9">TR-ALRT-WO(25)</text>
<path d="M192.8,1657.3H319" fill="none" stroke="#000000" stroke-width="7.1"/>
<path d="M255.1,1635.3L256.7,1635.3L261.6,1649.85L276.96,1650.02L277.45,1651.54L265.13,1660.7L269.71,1675.35L268.42,1676.29L255.9,1667.4L243.38,1676.29L242.09,1675.35L246.67,1660.7L234.35,1651.54L234.84,1650.02L250.2,1649.85Z" fill="#000000" stroke="#000000" stroke-width="0.6" stroke-linejoin="miter" stroke-miterlimit="10"/>
<text class="lg" x="327.5" y="1671.9">TR-ALRT(30)</text>
<path d="M192.8,1708.6H319" fill="none" stroke="#000000" stroke-width="7.1" stroke-dasharray="26.0 24.0"/>
<path d="M255.1,1686.6L256.7,1686.6L261.6,1701.15L276.96,1701.32L277.45,1702.84L265.13,1712L269.71,1726.65L268.42,1727.59L255.9,1718.7L243.38,1727.59L242.09,1726.65L246.67,1712L234.35,1702.84L234.84,1701.32L250.2,1701.15Z" fill="#000000" stroke="#000000" stroke-width="0.6" stroke-linejoin="miter" stroke-miterlimit="10"/>
<text class="lg" x="327.5" y="1723.2">TR-ALRT(25)</text>
<path d="M192.8,1760.2H319" fill="none" stroke="#0000ff" stroke-width="7.1"/>
<path d="M242.9,1760.2L268.9,1760.2M246.71,1751.01L265.09,1769.39M255.9,1747.2L255.9,1773.2M265.09,1751.01L246.71,1769.39" fill="none" stroke="#0000ff" stroke-width="7.3"/>
<text class="lg" x="327.5" y="1774.8">C-LRT(30)</text>
<path d="M192.8,1811.4H319" fill="none" stroke="#0000ff" stroke-width="7.1" stroke-dasharray="26.0 24.0"/>
<path d="M242.9,1811.4L268.9,1811.4M246.71,1802.21L265.09,1820.59M255.9,1798.4L255.9,1824.4M265.09,1802.21L246.71,1820.59" fill="none" stroke="#0000ff" stroke-width="7.3"/>
<text class="lg" x="327.5" y="1826">C-LRT(25)</text>
</g>
<text class="cap" text-anchor="middle" transform="translate(758.4,2820.8)">(<tspan class="b" style="font-size:86px">b</tspan>)</text>
</svg></body></html>
